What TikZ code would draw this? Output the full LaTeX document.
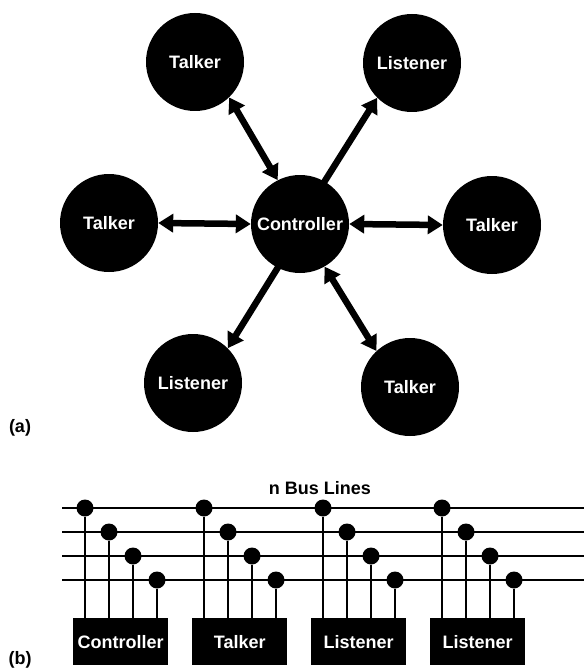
\documentclass[tikz,border=0pt]{standalone}
\usepackage{fontspec}
\setmainfont{Liberation Sans}
\usetikzlibrary{arrows.meta}
\begin{document}
\begin{tikzpicture}[x=1pt,y=-1pt,
  every node/.style={font=\fontsize{18}{20}\selectfont\bfseries},
  ball/.style={circle,fill=black,text=white,minimum size=98pt,inner sep=0pt},
  conn/.style={line width=6.5pt,shorten <=-2pt,-{Triangle[width=18pt,length=15pt]}},
  dconn/.style={line width=6.5pt,{Triangle[width=18pt,length=15pt]}-{Triangle[width=18pt,length=15pt]}},
  bus/.style={line width=1.8pt},
  tap/.style={circle,fill=black,minimum size=17pt,inner sep=0pt},
  dev/.style={fill=black,text=white,minimum width=95pt,minimum height=47pt,inner sep=0pt}]
\useasboundingbox (0,0) rectangle (584,671);
% (a) star configuration
\node[ball] (tt) at (195,62) {Talker};
\node[ball] (tl) at (412,63) {Listener};
\node[ball] (lt) at (109,223) {Talker};
\node[ball] (ctrl) at (300,224) {Controller};
\node[ball] (rt) at (492,225) {Talker};
\node[ball] (bl) at (193,383) {Listener};
\node[ball] (bt) at (410,387) {Talker};
\draw[dconn] (tt.-46) -- (ctrl.117);
\draw[conn] (ctrl.60) -- (tl.-135);
\draw[dconn] (lt.0) -- (ctrl.180);
\draw[dconn] (ctrl.0) -- (rt.180);
\draw[conn] (ctrl.-117) -- (bl.45);
\draw[dconn] (bt.133) -- (ctrl.-60);
\node (la) at (20,428) {(a)};
% (b) bus configuration
\node (title) at (320,488) {n Bus Lines};
\foreach \k/\yy in {1/508,2/532,3/556,4/580}{
  \coordinate (bs\k) at (62,\yy);
  \coordinate (be\k) at (584,\yy);
  \draw[bus] (bs\k) -- (be\k);
}
\foreach \j/\xx/\nm in {1/73/Controller,2/192/Talker,3/311/Listener,4/430/Listener}{
  \node[dev,anchor=north west] (d\j) at (\xx,618) {\nm};
  \foreach \k/\yy in {1/508,2/532,3/556,4/580}{
    \node[tap] (t\j\k) at ({\xx+12+24*(\k-1)},\yy) {};
    \draw[bus] (t\j\k) -- (t\j\k |- d\j.north);
  }
}
\node (lb) at (20,660) {(b)};
\end{tikzpicture}
\end{document}
